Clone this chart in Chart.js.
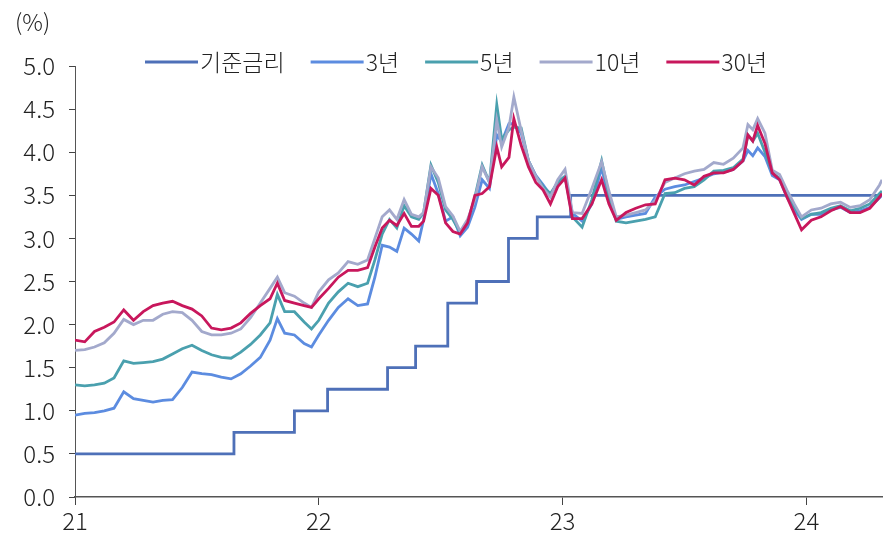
<!DOCTYPE html>
<html>
<head>
<meta charset="utf-8">
<script src="https://cdn.jsdelivr.net/npm/chart.js@4.4.1/dist/chart.umd.min.js"></script>
<style>
  html, body { margin: 0; padding: 0; background: #fff; }
  #wrap { width: 890px; height: 537px; }
</style>
</head>
<body>
<div id="wrap"><canvas id="rateChart" width="890" height="537"></canvas></div>
<script>
// Korean policy rate and government bond yields, 2021 - Apr 2024 (%)
const seriesNames = ['기준금리', '3년', '5년', '10년', '30년'];

// x positions are year fractions, 21.5 = mid-2021
const dates = [
    21.00, 21.04, 21.08, 21.12, 21.16, 21.20, 21.24, 21.28, 21.32, 21.36,
    21.40, 21.44, 21.48, 21.52, 21.56, 21.60, 21.64, 21.68, 21.72, 21.76,
    21.80, 21.83, 21.86, 21.90, 21.94, 21.97, 22.00, 22.04, 22.08, 22.12,
    22.16, 22.20, 22.23, 22.26, 22.29, 22.32, 22.35, 22.38, 22.41, 22.43,
    22.46, 22.49, 22.52, 22.55, 22.58, 22.61, 22.64, 22.67, 22.70, 22.73,
    22.75, 22.78, 22.80, 22.83, 22.86, 22.89, 22.92, 22.95, 22.98, 23.01,
    23.04, 23.08, 23.12, 23.16, 23.19, 23.22, 23.26, 23.30, 23.34, 23.38,
    23.42, 23.46, 23.50, 23.54, 23.58, 23.62, 23.66, 23.70, 23.74, 23.76,
    23.78, 23.80, 23.83, 23.86, 23.89, 23.92, 23.95, 23.98, 24.02, 24.06,
    24.10, 24.14, 24.18, 24.22, 24.26, 24.30, 24.31
];

const yield3y = [
    0.95, 0.97, 0.98, 1.00, 1.03, 1.22, 1.14, 1.12, 1.10, 1.12,
    1.13, 1.27, 1.45, 1.43, 1.42, 1.39, 1.37, 1.43, 1.52, 1.62,
    1.82, 2.07, 1.90, 1.88, 1.78, 1.74, 1.88, 2.05, 2.20, 2.30,
    2.22, 2.24, 2.55, 2.92, 2.90, 2.85, 3.12, 3.05, 2.97, 3.22,
    3.75, 3.52, 3.20, 3.25, 3.03, 3.13, 3.36, 3.68, 3.58, 4.20,
    4.12, 4.33, 4.33, 4.22, 3.90, 3.73, 3.62, 3.50, 3.65, 3.72,
    3.29, 3.20, 3.40, 3.82, 3.45, 3.22, 3.25, 3.27, 3.29, 3.48,
    3.57, 3.60, 3.62, 3.66, 3.70, 3.75, 3.77, 3.80, 3.90, 4.02,
    3.96, 4.05, 3.95, 3.73, 3.68, 3.48, 3.33, 3.22, 3.28, 3.28,
    3.33, 3.36, 3.30, 3.32, 3.36, 3.47, 3.50
];

const yield5y = [
    1.30, 1.29, 1.30, 1.32, 1.38, 1.58, 1.55, 1.56, 1.57, 1.60,
    1.66, 1.72, 1.76, 1.70, 1.65, 1.62, 1.61, 1.68, 1.77, 1.88,
    2.02, 2.35, 2.15, 2.15, 2.03, 1.95, 2.05, 2.25, 2.38, 2.48,
    2.44, 2.48, 2.75, 3.05, 3.22, 3.12, 3.38, 3.25, 3.22, 3.30,
    3.85, 3.65, 3.33, 3.22, 3.07, 3.18, 3.48, 3.85, 3.65, 4.55,
    4.15, 4.26, 4.29, 4.28, 3.90, 3.72, 3.60, 3.52, 3.65, 3.72,
    3.25, 3.13, 3.45, 3.90, 3.50, 3.20, 3.18, 3.20, 3.22, 3.25,
    3.52, 3.53, 3.58, 3.60, 3.68, 3.78, 3.79, 3.82, 3.92, 4.20,
    4.13, 4.22, 4.00, 3.76, 3.70, 3.52, 3.37, 3.23, 3.28, 3.30,
    3.35, 3.38, 3.32, 3.35, 3.40, 3.52, 3.55
];

const yield10y = [
    1.70, 1.71, 1.74, 1.79, 1.90, 2.06, 2.00, 2.05, 2.05, 2.12,
    2.15, 2.14, 2.05, 1.92, 1.88, 1.88, 1.90, 1.95, 2.08, 2.25,
    2.42, 2.55, 2.37, 2.33, 2.25, 2.20, 2.38, 2.52, 2.60, 2.73,
    2.70, 2.75, 3.00, 3.25, 3.33, 3.22, 3.45, 3.28, 3.25, 3.30,
    3.83, 3.70, 3.37, 3.26, 3.08, 3.22, 3.45, 3.83, 3.65, 4.37,
    4.06, 4.29, 4.64, 4.25, 3.90, 3.72, 3.58, 3.48, 3.68, 3.80,
    3.30, 3.29, 3.58, 3.89, 3.55, 3.25, 3.27, 3.30, 3.33, 3.44,
    3.65, 3.70, 3.75, 3.78, 3.80, 3.88, 3.86, 3.93, 4.05, 4.32,
    4.26, 4.39, 4.22, 3.79, 3.74, 3.56, 3.40, 3.25, 3.33, 3.35,
    3.40, 3.42, 3.36, 3.38, 3.45, 3.62, 3.68
];

const yield30y = [
    1.82, 1.80, 1.92, 1.97, 2.03, 2.17, 2.05, 2.15, 2.22, 2.25,
    2.27, 2.22, 2.18, 2.10, 1.96, 1.94, 1.96, 2.02, 2.13, 2.22,
    2.30, 2.48, 2.28, 2.25, 2.22, 2.20, 2.30, 2.42, 2.55, 2.63,
    2.63, 2.66, 2.90, 3.12, 3.21, 3.15, 3.29, 3.14, 3.14, 3.20,
    3.58, 3.50, 3.18, 3.08, 3.05, 3.18, 3.50, 3.52, 3.60, 4.06,
    3.83, 3.94, 4.39, 4.08, 3.83, 3.65, 3.56, 3.40, 3.60, 3.70,
    3.23, 3.23, 3.40, 3.68, 3.40, 3.21, 3.30, 3.35, 3.39, 3.40,
    3.68, 3.70, 3.68, 3.62, 3.72, 3.76, 3.76, 3.80, 3.90, 4.20,
    4.13, 4.31, 4.10, 3.76, 3.68, 3.48, 3.29, 3.10, 3.21, 3.25,
    3.32, 3.37, 3.30, 3.30, 3.35, 3.48, 3.52
];

// policy rate change dates and the new rate from that date
const baseDates = [21.00, 21.652, 21.90, 22.036, 22.282, 22.397, 22.529, 22.647, 22.778, 22.896, 23.033, 24.31];
const baseRate = [0.50, 0.75, 1.00, 1.25, 1.50, 1.75, 2.25, 2.50, 3.00, 3.25, 3.50, 3.50];

const yTickValues = [0, 0.5, 1, 1.5, 2, 2.5, 3, 3.5, 4, 4.5, 5];
const xTickValues = [21, 22, 23, 24];
const xTickLabels = ['21', '22', '23', '24'];

const COLORS = ['#4e70b8', '#5c8ce0', '#4aa0ae', '#a3a9cc', '#c8175c'];
const FONT = "'Noto Sans CJK KR', 'Noto Sans', sans-serif";

function toPoints(xs, ys) {
    return xs.map((x, i) => ({ x: x, y: ys[i] }));
}

// legend and unit label are drawn over the top of the plot, like the source
const overlayPlugin = {
    id: 'overlay',
    afterDraw(chart) {
        const ctx = chart.ctx;
        ctx.save();
        ctx.font = '300 23px ' + FONT;
        ctx.fillStyle = '#222';
        ctx.textBaseline = 'middle';
        ctx.textAlign = 'left';
        ctx.fillText('(%)', 15, 22);

        let x = 145;
        const y = 62;
        chart.data.datasets.forEach((ds, i) => {
            ctx.strokeStyle = COLORS[i];
            ctx.lineWidth = 3;
            ctx.beginPath();
            ctx.moveTo(x, y);
            ctx.lineTo(x + 53, y);
            ctx.stroke();
            x += 55;
            ctx.fillText(ds.label, x, y);
            x += ctx.measureText(ds.label).width + 26;
        });
        ctx.restore();
    }
};

const ctx = document.getElementById('rateChart').getContext('2d');
new Chart(ctx, {
    type: 'line',
    data: {
        datasets: [
            { label: seriesNames[0], data: toPoints(baseDates, baseRate), borderColor: COLORS[0], stepped: true, order: 5 },
            { label: seriesNames[1], data: toPoints(dates, yield3y), borderColor: COLORS[1], order: 4 },
            { label: seriesNames[2], data: toPoints(dates, yield5y), borderColor: COLORS[2], order: 3 },
            { label: seriesNames[3], data: toPoints(dates, yield10y), borderColor: COLORS[3], order: 2 },
            { label: seriesNames[4], data: toPoints(dates, yield30y), borderColor: COLORS[4], order: 1 }
        ]
    },
    options: {
        responsive: false,
        animation: false,
        devicePixelRatio: 1,
        layout: { padding: { top: 66, right: 8, bottom: 0, left: 0 } },
        elements: {
            line: { borderWidth: 2.8, tension: 0, fill: false },
            point: { radius: 0 }
        },
        plugins: {
            legend: { display: false },
            tooltip: { enabled: false }
        },
        scales: {
            x: {
                type: 'linear',
                min: 21,
                max: 24.31,
                afterBuildTicks: scale => { scale.ticks = xTickValues.map(v => ({ value: v })); },
                afterFit: scale => { scale.height = 40; },
                grid: { drawOnChartArea: false, drawTicks: true, tickLength: 8, tickColor: '#444' },
                border: { display: true, color: '#555', width: 1.5 },
                ticks: {
                    autoSkip: false,
                    maxRotation: 0,
                    padding: 1,
                    color: '#222',
                    font: { family: FONT, size: 24, weight: '300' },
                    callback: value => xTickLabels[xTickValues.indexOf(value)]
                }
            },
            y: {
                min: 0,
                max: 5,
                afterBuildTicks: scale => { scale.ticks = yTickValues.map(v => ({ value: v })); },
                afterFit: scale => { scale.width = 75; },
                grid: { drawOnChartArea: false, drawTicks: true, tickLength: 6, tickColor: '#444' },
                border: { display: true, color: '#555', width: 1 },
                ticks: {
                    padding: 14,
                    color: '#222',
                    font: { family: FONT, size: 24, weight: '300' },
                    callback: value => value.toFixed(1)
                }
            }
        }
    },
    plugins: [overlayPlugin]
});
</script>
</body>
</html>
